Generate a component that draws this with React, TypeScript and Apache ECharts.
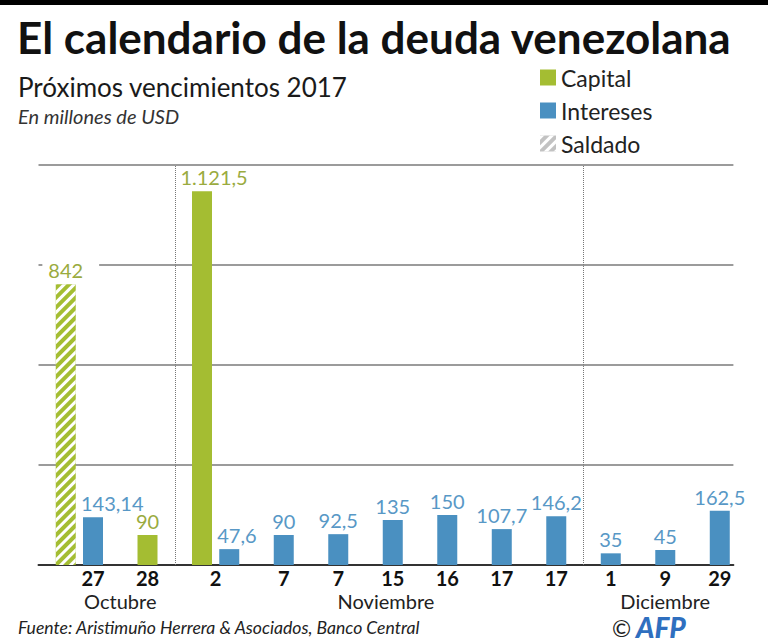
import React, { useEffect, useRef } from "react";
import * as echarts from "echarts";

// Payment dates (day of month) and the month each one belongs to
const dates = ["27", "28", "2", "7", "7", "15", "16", "17", "17", "1", "9", "29"];
const months = [
  "Octubre", "Octubre",
  "Noviembre", "Noviembre", "Noviembre", "Noviembre", "Noviembre", "Noviembre", "Noviembre",
  "Diciembre", "Diciembre", "Diciembre",
];
// Millions of USD per date
const saldado: (number | null)[] = [842, null, null, null, null, null, null, null, null, null, null, null];
const capital: (number | null)[] = [null, 90, 1121.5, null, null, null, null, null, null, null, null, null];
const intereses: (number | null)[] = [143.14, null, 47.6, 90, 92.5, 135, 150, 107.7, 146.2, 35, 45, 162.5];
const yTicks = [0, 300, 600, 900, 1200];

const GREEN = "#a4bd32";
const GREEN_TXT = "#9aab3f";
const BLUE = "#4a90c1";
const BLUE_TXT = "#5898c6";
const FONT = 'Lato, "Noto Sans", sans-serif';

const hatch = {
  symbol: "rect",
  symbolSize: 1,
  color: "#ffffff",
  dashArrayX: [1, 0],
  dashArrayY: [3, 3.5],
  rotation: -Math.PI / 4,
};

// Spanish number format: 1.121,5
function fmt(v: number): string {
  const [i, d] = String(v).split(".");
  const g = i.replace(/\B(?=(\d{3})+(?!\d))/g, ".");
  return d ? g + "," + d : g;
}

// Lay bars out along a slot scale: each new date steps one slot,
// a second bar on the same date sits half a slot further on.
type Bar = { pos: number; value: number; kind: "saldado" | "capital" | "intereses"; date: number };
const bars: Bar[] = [];
const datePos: number[] = [];
{
  let cursor = -0.5;
  dates.forEach((_, i) => {
    const list: Bar[] = [];
    const cap = saldado[i] ?? capital[i];
    if (cap != null) list.push({ pos: 0, value: cap, kind: saldado[i] != null ? "saldado" : "capital", date: i });
    if (intereses[i] != null) list.push({ pos: 0, value: intereses[i] as number, kind: "intereses", date: i });
    list.forEach((b, k) => {
      cursor += k === 0 ? 1 : 0.5;
      b.pos = cursor;
      bars.push(b);
    });
    const open = list.filter((b) => b.kind !== "saldado");
    datePos.push(open.reduce((s, b) => s + b.pos, 0) / open.length);
  });
}

const key = (v: number) => v.toFixed(3);
const dateLabels = new Map<string, string>();
dates.forEach((d, i) => dateLabels.set(key(datePos[i]), d));

const monthNames = Array.from(new Set(months));
const monthLabels = new Map<string, string>();
const separators: number[] = [];
monthNames.forEach((m, mi) => {
  const idx = months.map((x, i) => (x === m ? i : -1)).filter((i) => i >= 0);
  const c = (datePos[idx[0]] + datePos[idx[idx.length - 1]]) / 2;
  monthLabels.set(key(c), m);
  if (mi > 0) {
    const prevLast = bars.filter((b) => months[b.date] === monthNames[mi - 1]).pop() as Bar;
    const nextFirst = bars.find((b) => months[b.date] === m) as Bar;
    separators.push((prevLast.pos + nextFirst.pos) / 2);
  }
});

// Interest bars that share their date with a taller capital bar
const pairedInterest = new Set<number>();
bars
  .filter((b) => b.kind === "intereses")
  .forEach((b, j) => {
    if (bars.some((o) => o.date === b.date && o.kind !== "intereses")) pairedInterest.add(j);
  });

const seriesData = (kind: Bar["kind"]) =>
  bars
    .filter((b) => b.kind === kind)
    .map((b) => {
      const item: any = { value: [b.pos, b.value] };
      if (b.value >= 1000) item.label = { offset: [12, 0] };
      return item;
    });

export default function App() {
  const ref = useRef<HTMLDivElement>(null);

  useEffect(() => {
    if (!ref.current) return;
    const chart = echarts.init(ref.current, undefined, { renderer: "svg" });

    const labelBase = {
      show: true,
      position: "top",
      distance: 4,
      fontSize: 20,
      fontFamily: FONT,
      formatter: (p: any) => fmt(p.value[1]),
    };

    chart.setOption({
      animation: false,
      backgroundColor: "#ffffff",
      textStyle: { fontFamily: FONT },
      graphic: [
        { type: "rect", shape: { x: 0, y: 0, width: 768, height: 5 }, style: { fill: "#000" } },
        {
          type: "text",
          x: 17,
          y: 37,
          style: {
            text: "El calendario de la deuda venezolana",
            fontSize: 44,
            lineHeight: 36,
            fontWeight: "bold",
            fontFamily: FONT,
            fill: "#111",
            verticalAlign: "middle",
          },
        },
        {
          type: "text",
          x: 18,
          y: 87,
          style: {
            text: "Próximos vencimientos 2017",
            fontSize: 26,
            lineHeight: 24,
            fontFamily: FONT,
            fill: "#1a1a1a",
            verticalAlign: "middle",
          },
        },
        {
          type: "text",
          x: 18,
          y: 116,
          style: {
            text: "En millones de USD",
            fontSize: 20,
            lineHeight: 20,
            fontStyle: "italic",
            fontFamily: FONT,
            fill: "#333",
            verticalAlign: "middle",
          },
        },
        {
          type: "text",
          x: 18,
          y: 627,
          style: {
            text: "Fuente: Aristimuño Herrera & Asociados, Banco Central",
            fontSize: 17.6,
            lineHeight: 18,
            fontStyle: "italic",
            fontFamily: FONT,
            fill: "#222",
            verticalAlign: "middle",
          },
        },
        {
          type: "text",
          x: 612,
          y: 628,
          style: {
            text: "©",
            fontSize: 23,
            lineHeight: 20,
            fontFamily: FONT,
            fill: "#222",
            verticalAlign: "middle",
          },
        },
        {
          type: "text",
          x: 636,
          y: 627,
          style: {
            text: "AFP",
            fontSize: 28,
            lineHeight: 22,
            fontWeight: 900,
            fontStyle: "italic",
            fontFamily: FONT,
            fill: "#2f6fbf",
            verticalAlign: "middle",
          },
        },
      ],
      legend: {
        orient: "vertical",
        left: 535,
        top: 61,
        itemWidth: 16,
        itemHeight: 16,
        itemGap: 10,
        icon: "rect",
        selectedMode: false,
        textStyle: { fontSize: 23, color: "#222", fontFamily: FONT },
        data: [
          { name: "Capital" },
          { name: "Intereses" },
          { name: "Saldado", itemStyle: { color: "#c2c2c2", decal: hatch } },
        ],
      },
      grid: { left: 38.5, right: 34.6, top: 165, bottom: 79 },
      xAxis: [
        {
          type: "value",
          min: 0,
          max: 12.75,
          interval: 0.25,
          axisLine: { show: true, lineStyle: { color: "#333", width: 2 } },
          axisTick: { show: false },
          splitLine: { show: false },
          axisLabel: {
            margin: 4,
            fontSize: 20,
            lineHeight: 18,
            fontWeight: "bold",
            color: "#111",
            fontFamily: FONT,
            formatter: (v: number) => dateLabels.get(key(v)) ?? "",
          },
        },
        {
          type: "value",
          min: 0,
          max: 12.75,
          interval: 0.125,
          position: "bottom",
          offset: 21,
          axisLine: { show: false },
          axisTick: { show: false },
          splitLine: { show: false },
          axisLabel: {
            margin: 6,
            fontSize: 20,
            lineHeight: 18,
            color: "#222",
            fontFamily: FONT,
            formatter: (v: number) => monthLabels.get(key(v)) ?? "",
          },
        },
      ],
      yAxis: {
        type: "value",
        min: yTicks[0],
        max: yTicks[yTicks.length - 1],
        interval: yTicks[1] - yTicks[0],
        axisLabel: { show: false },
        axisLine: { show: false },
        axisTick: { show: false },
        splitLine: { lineStyle: { color: "#7a7a7a", width: 1.5 } },
      },
      series: [
        {
          name: "Saldado",
          type: "bar",
          barWidth: 20,
          barGap: "-100%",
          data: seriesData("saldado"),
          itemStyle: { color: GREEN, decal: hatch },
          label: {
            ...labelBase,
            color: GREEN_TXT,
            backgroundColor: "#ffffff",
            padding: [0, 16, 0, 6],
            offset: [5, 0],
          },
        },
        {
          name: "Capital",
          type: "bar",
          barWidth: 20,
          barGap: "-100%",
          data: seriesData("capital"),
          itemStyle: { color: GREEN },
          label: { ...labelBase, color: GREEN_TXT },
        },
        {
          name: "Intereses",
          type: "bar",
          barWidth: 20,
          barGap: "-100%",
          data: seriesData("intereses"),
          itemStyle: { color: BLUE },
          label: { ...labelBase, color: BLUE_TXT },
          labelLayout: (p: any) =>
            pairedInterest.has(p.dataIndex) ? { dx: p.rect.x - 2 - p.labelRect.x } : {},
          markLine: {
            silent: true,
            symbol: ["none", "none"],
            label: { show: false },
            lineStyle: { type: "dotted", color: "#777", width: 1 },
            data: separators.map((s) => ({ xAxis: s })),
          },
        },
      ],
    });

    return () => chart.dispose();
  }, []);

  return (
    <div
      ref={ref}
      style={{ position: "absolute", left: 0, top: 0, width: 768, height: 644 }}
    />
  );
}
